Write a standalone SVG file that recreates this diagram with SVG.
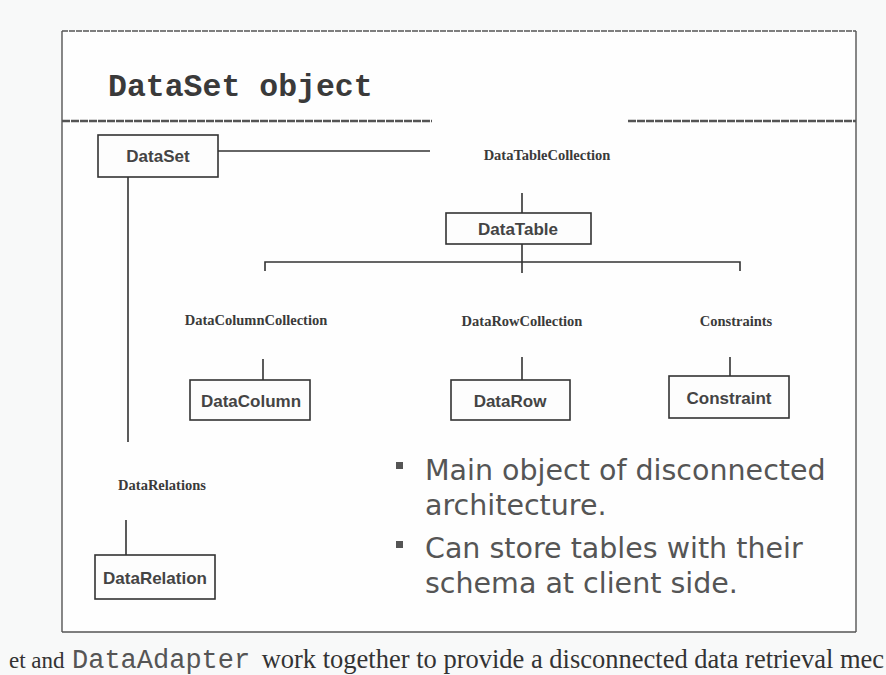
<svg xmlns="http://www.w3.org/2000/svg" width="886" height="675" viewBox="0 0 886 675">
<style>
.box{fill:#fdfdfd;stroke:#333;stroke-width:1.6}
.lbl{font-family:"Liberation Sans",Arial,sans-serif;font-weight:bold;font-size:17px;fill:#444;text-anchor:middle}
.col{font-family:"Liberation Serif","Times New Roman",serif;font-weight:bold;font-size:14.5px;fill:#3a3a3a;text-anchor:middle}
.ln{stroke:#333;stroke-width:1.6;fill:none}
.frame{stroke:#555;stroke-width:1.4;fill:none}
.bul{font-family:"DejaVu Sans",Verdana,sans-serif;font-size:28.5px;fill:#555}
</style>
<rect width="886" height="675" fill="#f8f9f9"/>
<rect x="62" y="31" width="794" height="601" fill="#fefefe"/>
<g id="frame">
<line class="frame" x1="62" y1="31" x2="856" y2="31" stroke-dasharray="6 1"/>
<line class="frame" x1="62" y1="31" x2="62" y2="632"/>
<line class="frame" x1="856" y1="31" x2="856" y2="632"/>
<line class="frame" x1="62" y1="632" x2="856" y2="632" stroke-width="2"/>
<line x1="62" y1="121" x2="432" y2="121" stroke="#555" stroke-width="2.4" stroke-dasharray="8 1"/>
<line x1="628" y1="121" x2="856" y2="121" stroke="#555" stroke-width="2.4" stroke-dasharray="8 1"/>
</g>
<text id="title" x="108" y="96" font-family="'Liberation Mono','Courier New',monospace" font-weight="bold" font-size="31.5" fill="#3a3a3a">DataSet object</text>
<g id="connectors">
<line class="ln" x1="218" y1="151" x2="430" y2="151"/>
<line class="ln" x1="128" y1="177" x2="128" y2="442"/>
<line class="ln" x1="522" y1="193" x2="522" y2="213"/>
<line class="ln" x1="522" y1="244" x2="522" y2="273"/>
<polyline class="ln" points="265,271 265,262 740,262 740,271"/>
<line class="ln" x1="263" y1="359" x2="263" y2="380"/>
<line class="ln" x1="522" y1="357" x2="522" y2="380"/>
<line class="ln" x1="730" y1="357" x2="730" y2="376"/>
<line class="ln" x1="126" y1="520" x2="126" y2="555"/>
</g>
<g id="DataSet"><rect class="box" x="98" y="135" width="120" height="42"/><text class="lbl" x="158" y="162">DataSet</text></g>
<g id="DataTableCollection"><text class="col" x="547" y="160">DataTableCollection</text></g>
<g id="DataTable"><rect class="box" x="446" y="213" width="145" height="31"/><text class="lbl" x="518" y="235">DataTable</text></g>
<g id="DataColumnCollection"><text class="col" x="256" y="325">DataColumnCollection</text></g>
<g id="DataColumn"><rect class="box" x="190" y="380" width="120" height="40"/><text class="lbl" x="251" y="407">DataColumn</text></g>
<g id="DataRowCollection"><text class="col" x="522" y="326">DataRowCollection</text></g>
<g id="DataRow"><rect class="box" x="451" y="380" width="119" height="40"/><text class="lbl" x="510" y="407">DataRow</text></g>
<g id="Constraints"><text class="col" x="736" y="326">Constraints</text></g>
<g id="Constraint"><rect class="box" x="669" y="376" width="120" height="42"/><text class="lbl" x="729" y="404">Constraint</text></g>
<g id="DataRelations"><text class="col" x="162" y="490">DataRelations</text></g>
<g id="DataRelation"><rect class="box" x="95" y="555" width="120" height="44"/><text class="lbl" x="155" y="584">DataRelation</text></g>
<g id="bullets">
<rect x="396" y="462" width="7" height="7" fill="#555"/>
<text class="bul" x="425" y="480">Main object of disconnected</text>
<text class="bul" x="425" y="515">architecture.</text>
<rect x="396" y="541" width="7" height="7" fill="#555"/>
<text class="bul" x="425" y="558">Can store tables with their</text>
<text class="bul" x="425" y="593">schema at client side.</text>
</g>
<text id="caption" x="9" y="668" font-family="'Liberation Serif','Times New Roman',serif" font-size="23" fill="#333">et and <tspan x="72" font-family="'Liberation Mono','Courier New',monospace" font-size="27" fill="#555">DataAdapter</tspan><tspan x="255" font-size="26.5"> work together to provide a disconnected data retrieval mec</tspan></text>
</svg>
